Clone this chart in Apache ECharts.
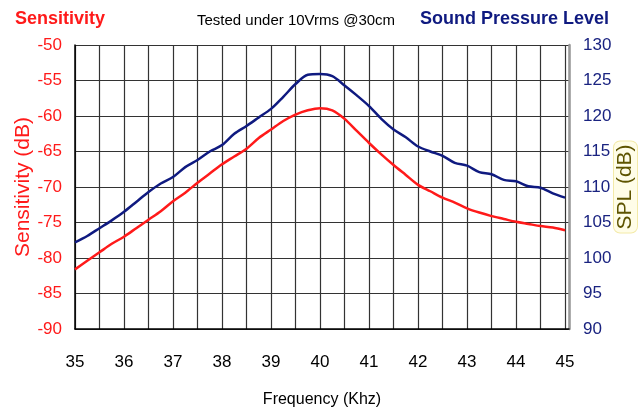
<!DOCTYPE html>
<html>
<head>
<meta charset="utf-8">
<script src="https://cdn.jsdelivr.net/npm/echarts@6/dist/echarts.min.js"></script>
<style>
  html, body { margin: 0; padding: 0; background: #fff; }
  #chart { width: 642px; height: 409px; }
</style>
</head>
<body>
<div id="chart"></div>
<script>
// ---- data ----
const frequencyKHz = [35, 35.25, 35.5, 35.75, 36, 36.25, 36.5, 36.75, 37, 37.25, 37.5, 37.75,
  38, 38.25, 38.5, 38.75, 39, 39.25, 39.5, 39.75, 40, 40.25, 40.5, 40.75, 41, 41.25, 41.5, 41.75,
  42, 42.25, 42.5, 42.75, 43, 43.25, 43.5, 43.75, 44, 44.25, 44.5, 44.75, 45];

const sensitivityDB = [-81.6, -80.4, -79.2, -78.0, -77.0, -75.8, -74.6, -73.4, -72.0, -70.8, -69.4, -68.1,
  -66.8, -65.7, -64.6, -63.1, -61.9, -60.7, -59.8, -59.2, -58.9, -59.2, -60.4, -62.1, -63.8, -65.4, -66.9, -68.3,
  -69.7, -70.6, -71.5, -72.2, -73.0, -73.6, -74.1, -74.5, -74.9, -75.2, -75.5, -75.7, -76.1];

const splDB = [102.2, 103.1, 104.2, 105.3, 106.5, 107.9, 109.3, 110.5, 111.4, 112.8, 113.8, 115.0,
  115.9, 117.5, 118.6, 119.8, 121.0, 122.7, 124.5, 125.8, 125.9, 125.6, 124.3, 122.9, 121.4, 119.6, 118.1, 117.0,
  115.7, 115.0, 114.4, 113.4, 113.0, 112.1, 111.8, 111.0, 110.8, 110.1, 109.9, 109.1, 108.5];

const xTickLabels = ['35', '36', '37', '38', '39', '40', '41', '42', '43', '44', '45'];
const leftAxisRange = [-90, -50];
const rightAxisRange = [90, 130];

const titleLeft = 'Sensitivity';
const titleMid = 'Tested under 10Vrms @30cm';
const titleRight = 'Sound Pressure Level';

// ---- chart ----
const FONT = "'Liberation Sans', Arial, sans-serif";
const RED = '#ff1a1a';
const NAVY = '#0f1a80';
const GRIDC = '#333333';

const chart = echarts.init(document.getElementById('chart'), null, { renderer: 'canvas' });

const option = {
  backgroundColor: '#ffffff',
  animation: false,
  title: [
    { text: titleLeft, left: 15, top: 10, padding: 0,
      textStyle: { color: RED, fontFamily: FONT, fontWeight: 'bold', fontSize: 18 } },
    { text: titleMid, left: 197, top: 13, padding: 0,
      textStyle: { color: '#000', fontFamily: FONT, fontWeight: 'normal', fontSize: 15 } },
    { text: titleRight, left: 420, top: 10, padding: 0,
      textStyle: { color: NAVY, fontFamily: FONT, fontWeight: 'bold', fontSize: 18 } }
  ],
  grid: { left: 75, right: 73, top: 45, bottom: 80, containLabel: false, outerBoundsMode: 'none' },
  xAxis: {
    type: 'value',
    min: 35,
    max: 45.08,
    interval: 0.5,
    name: 'Frequency (Khz)',
    nameLocation: 'middle',
    nameGap: 63,
    nameMoveOverlap: false,
    nameTextStyle: { color: '#000', fontFamily: FONT, fontSize: 16 },
    axisLine: { show: true, onZero: false, lineStyle: { color: '#000', width: 1.5 } },
    axisTick: { show: false },
    axisLabel: {
      color: '#000', fontFamily: FONT, fontSize: 17, margin: 25,
      showMaxLabel: true,
      formatter: function (v) {
        const s = String(Math.round(v));
        return (Math.abs(v - Math.round(v)) < 1e-6 && xTickLabels.indexOf(s) >= 0) ? s : '';
      }
    },
    splitLine: { show: true, lineStyle: { color: GRIDC, width: 1.2 } }
  },
  yAxis: [
    {
      type: 'value',
      min: leftAxisRange[0], max: leftAxisRange[1], interval: 5,
      position: 'left',
      name: 'Sensitivity (dB)',
      nameLocation: 'middle',
      nameRotate: 90,
      nameGap: 41,
      nameMoveOverlap: false,
      nameTextStyle: { color: RED, fontFamily: FONT, fontSize: 21 },
      axisLine: { show: true, onZero: false, lineStyle: { color: '#000', width: 1.5 } },
      axisTick: { show: false },
      axisLabel: { color: RED, fontFamily: FONT, fontSize: 17, margin: 13 },
      splitLine: { show: true, lineStyle: { color: GRIDC, width: 1.2 } }
    },
    {
      type: 'value',
      min: rightAxisRange[0], max: rightAxisRange[1], interval: 5,
      position: 'right',
      name: 'SPL (dB)',
      nameLocation: 'middle',
      nameRotate: 90,
      nameGap: 45,
      nameMoveOverlap: false,
      nameTextStyle: {
        color: '#5e5400', fontFamily: FONT, fontSize: 21,
        backgroundColor: '#fffde8', borderColor: '#f3eaa8', borderWidth: 1,
        borderRadius: 6, padding: [1, 3]
      },
      axisLine: { show: true, onZero: false, lineStyle: { color: '#9a9a9a', width: 2.5 } },
      axisTick: { show: false },
      axisLabel: { color: '#1a2380', fontFamily: FONT, fontSize: 17, margin: 14 },
      splitLine: { show: false }
    }
  ],
  series: [
    {
      name: 'Sensitivity',
      type: 'line',
      yAxisIndex: 0,
      data: frequencyKHz.map((f, i) => [f, sensitivityDB[i]]),
      showSymbol: false,
      smooth: 0.3,
      lineStyle: { color: RED, width: 2.5 },
      z: 3
    },
    {
      name: 'SPL',
      type: 'line',
      yAxisIndex: 1,
      data: frequencyKHz.map((f, i) => [f, splDB[i]]),
      showSymbol: false,
      smooth: 0.3,
      lineStyle: { color: NAVY, width: 2.5 },
      z: 3
    }
  ]
};

chart.setOption(option);
</script>
</body>
</html>
